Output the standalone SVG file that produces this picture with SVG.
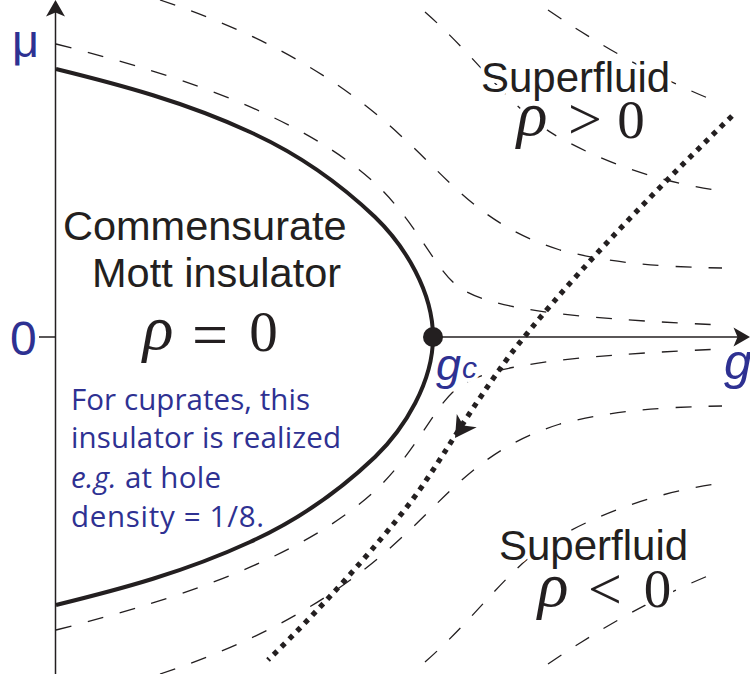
<svg xmlns="http://www.w3.org/2000/svg" width="750" height="674" viewBox="0 0 750 674">
<style>
.axis{stroke:#231f20;stroke-width:1.5;fill:none}
.flow{stroke:#231f20;stroke-width:1.3;fill:none;stroke-dasharray:16 17}
.phase{stroke:#231f20;stroke-width:4;fill:none}
.sep{stroke:#231f20;stroke-width:5.2;fill:none;stroke-dasharray:5 6}
.head{fill:#231f20}
.lbl{font-family:"Liberation Sans",Arial,sans-serif;fill:#231f20}
.bl{font-family:"Liberation Sans",Arial,sans-serif;fill:#2e3192}
.halo{stroke:#ffffff;stroke-width:8;paint-order:stroke;stroke-linejoin:round}
.math{font-family:"Liberation Serif","Times New Roman",serif;fill:#231f20;text-anchor:middle}
.note{font-family:"Open Sans","Noto Sans","DejaVu Sans",sans-serif;font-size:29.5px;fill:#2e3192}
</style>
<rect width="750" height="674" fill="#ffffff"/>

<g id="flow-lines">
  <g id="flow-upper">
    <path id="flow-a" class="flow" d="M548,10 C600,45 650,75 720,103"/>
    <path id="flow-b" class="flow" d="M425,12 C480,60 510,110 560,138 C610,165 660,182 722,191"/>
    <path id="flow-c" class="flow" d="M160,0 C250,30 330,70 400,135 C450,180 480,225 560,250 C610,263 660,267 722,268"/>
    <path id="flow-d" class="flow" d="M56,44 C150,68 300,110 380,188 C420,228 435,270 460,288 C490,308 560,318 722,325"/>
  </g>
  <use id="flow-lower" href="#flow-upper" transform="matrix(1 0 0 -1 0 674)"/>
</g>

<g id="axes">
  <line class="axis" x1="55.5" y1="674" x2="55.5" y2="12"/>
  <path class="head" d="M55.5,0 L65,16.5 L55.5,12.5 L46,16.5 Z"/>
  <line class="axis" x1="433" y1="337" x2="739" y2="337"/>
  <path class="head" d="M750,337 L733.5,327.5 L737.5,337 L733.5,346.5 Z"/>
  <line class="axis" x1="39" y1="337" x2="56" y2="337"/>
</g>

<g id="phase-boundary">
  <path class="phase" d="M56,69 C121,85 185,102 250,132 C292,151 333,177 375,217 C405,246 433,292 433,337 C433,382 405,428 375,457 C333,497 292,523 250,542 C185,572 121,589 56,605"/>
</g>

<g id="separatrix">
  <path class="sep" d="M732,116 C640,205 560,290 510,355 C470,410 450,445 425,482 C400,520 330,600 268,660"/>
  <path class="head" transform="translate(455,438) rotate(124)" d="M0,0 L-21,-12 L-15,0 L-21,12 Z"/>
</g>

<g id="critical-point">
  <circle cx="433" cy="337" r="10" fill="#231f20"/>
</g>

<g id="axis-labels">
  <text class="bl" x="12" y="57" font-size="47">μ</text>
  <text class="bl" x="10" y="355" font-size="48">0</text>
  <text class="bl" x="724" y="379" font-size="50" font-style="italic">g</text>
  <text class="bl halo" x="436" y="380" font-size="45" font-style="italic">g<tspan font-size="30" dx="1" dy="-2">c</tspan></text>
</g>

<g id="mott-region">
  <text class="lbl" x="63" y="240" font-size="41.5">Commensurate</text>
  <text class="lbl" x="92" y="287" font-size="41.5">Mott insulator</text>
  <g class="math">
    <text x="158" y="349" font-size="64" font-style="italic">ρ</text>
    <text x="210" y="356" font-size="64">=</text>
    <text x="263.5" y="351" font-size="57">0</text>
  </g>
  <g id="note" class="note">
    <text x="71" y="410" textLength="239">For cuprates, this</text>
    <text x="71" y="448" textLength="270">insulator is realized</text>
    <text x="71" y="488" textLength="150"><tspan font-style="italic">e.g.</tspan> at hole</text>
    <text x="71" y="527" textLength="193">density = 1/8.</text>
  </g>
</g>

<g id="superfluid-upper">
  <text class="lbl halo" x="481" y="92" font-size="42">Superfluid</text>
  <g class="math halo">
    <text x="532" y="135" font-size="64" font-style="italic">ρ</text>
    <text x="585" y="139" font-size="60">&gt;</text>
    <text x="631" y="138" font-size="55">0</text>
  </g>
</g>

<g id="superfluid-lower">
  <text class="lbl halo" x="499" y="560" font-size="42">Superfluid</text>
  <g class="math halo">
    <text x="553" y="606" font-size="64" font-style="italic">ρ</text>
    <text x="605" y="609" font-size="60">&lt;</text>
    <text x="657.5" y="607" font-size="55">0</text>
  </g>
</g>
</svg>
